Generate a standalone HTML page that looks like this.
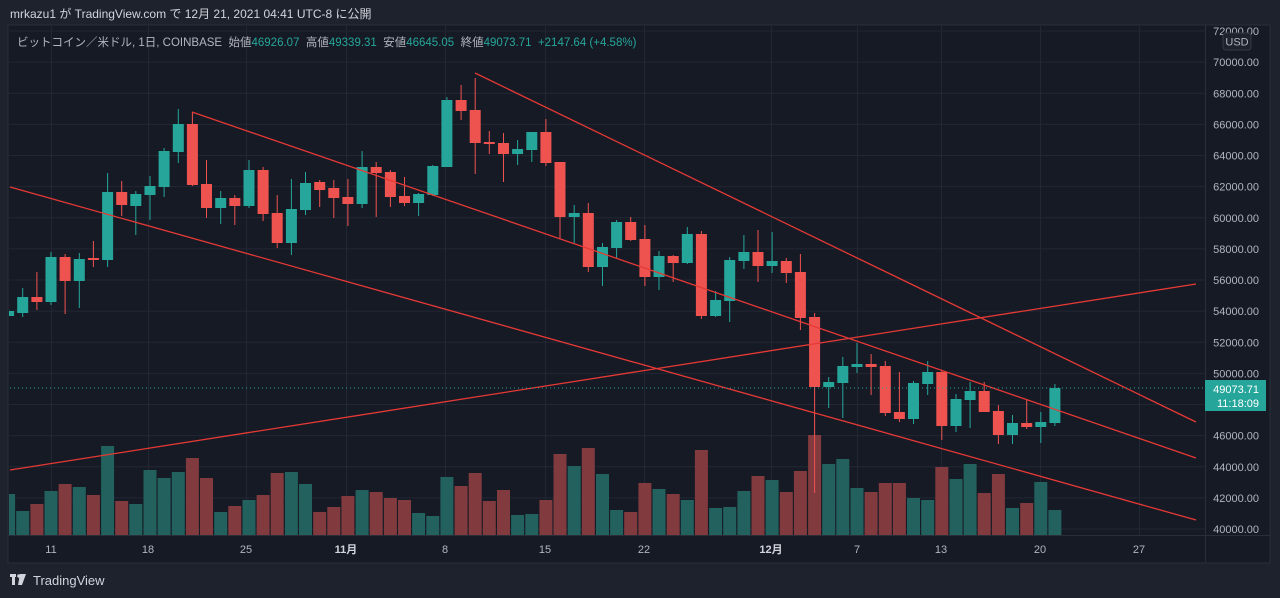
<!DOCTYPE html>
<html><head><meta charset="utf-8">
<style>
html,body{margin:0;padding:0;background:#1e222d;width:1280px;height:598px;overflow:hidden}
svg{display:block}
text{font-family:"Liberation Sans","Noto Sans CJK JP",sans-serif}
</style></head>
<body>
<svg id="s" width="1280" height="598" xmlns="http://www.w3.org/2000/svg">
<rect x="0" y="0" width="1280" height="598" fill="#1e222d"/>
<text x="10" y="18" font-size="12" fill="#d1d4dc">mrkazu1 が TradingView.com で 12月 21, 2021 04:41 UTC-8 に公開</text>
<rect x="8" y="25" width="1262" height="538" fill="#161a25" stroke="#2a2e39" stroke-width="1"/>
<g id="grid" stroke="#232734" stroke-width="1"></g>
<defs><clipPath id="cp"><rect x="9" y="26" width="1196" height="509"/></clipPath></defs>
<g id="vol" clip-path="url(#cp)"></g>
<g id="cdl" clip-path="url(#cp)"></g>
<g clip-path="url(#cp)" stroke="#e53935" stroke-width="1.3" fill="none">
<line x1="475" y1="73" x2="1196" y2="422"/>
<line x1="192" y1="112" x2="1196" y2="458"/>
<line x1="10" y1="187" x2="1196" y2="520"/>
<line x1="10" y1="470" x2="1196" y2="284"/>
<line x1="10" y1="388" x2="1205" y2="388" stroke="#26a69a" stroke-width="1" stroke-dasharray="1 3"/>
</g>
<line x1="1205.5" y1="25" x2="1205.5" y2="563" stroke="#2a2e39"/>
<line x1="8" y1="535.5" x2="1270" y2="535.5" stroke="#2a2e39"/>
<g id="plab" font-size="11" fill="#b2b5be" text-anchor="end"></g>
<rect x="1223" y="33" width="28" height="17" rx="3" fill="#1e222d" stroke="#363a45"/>
<text x="1237" y="45.5" font-size="11" fill="#b2b5be" text-anchor="middle">USD</text>
<rect x="1205" y="380" width="61" height="31" fill="#26a69a"/>
<text x="1259" y="393" font-size="11" fill="#ffffff" text-anchor="end">49073.71</text>
<text x="1259" y="407" font-size="11" fill="#ffffff" text-anchor="end">11:18:09</text>
<g font-size="11" fill="#b2b5be" text-anchor="middle">
<text x="51" y="553">11</text><text x="148" y="553">18</text><text x="246" y="553">25</text>
<text x="346" y="553" font-weight="bold" fill="#d1d4dc">11月</text><text x="445" y="553">8</text><text x="545" y="553">15</text>
<text x="644" y="553">22</text><text x="771" y="553" font-weight="bold" fill="#d1d4dc">12月</text><text x="857" y="553">7</text>
<text x="941" y="553">13</text><text x="1040" y="553">20</text><text x="1139" y="553">27</text>
</g>
<text x="17" y="46" font-size="11.5" fill="#b2b5be">ビットコイン／米ドル, 1日, COINBASE&#160;&#160;始値<tspan fill="#26a69a">46926.07</tspan>&#160;&#160;高値<tspan fill="#26a69a">49339.31</tspan>&#160;&#160;安値<tspan fill="#26a69a">46645.05</tspan>&#160;&#160;終値<tspan fill="#26a69a">49073.71</tspan>&#160;&#160;<tspan fill="#26a69a">+2147.64 (+4.58%)</tspan></text>
<g fill="#d1d4dc">
<rect x="10" y="574" width="6" height="3"/><rect x="12" y="574" width="3" height="11"/>
<circle cx="19" cy="576" r="1.8"/><polygon points="20,574 26,574 22,585 18,585"/>
</g>
<text x="33" y="585" font-size="13" fill="#d1d4dc">TradingView</text>
</svg>
<script>
var NS="http://www.w3.org/2000/svg";
function el(p,t,a){var e=document.createElementNS(NS,t);for(var k in a)e.setAttribute(k,a[k]);p.appendChild(e);return e;}
var grid=document.getElementById('grid'),plab=document.getElementById('plab');
for(var p=72000;p>=40000;p-=2000){var y=31+(72000-p)*0.015563;
 el(grid,'line',{x1:9,y1:y.toFixed(1),x2:1205,y2:y.toFixed(1)});
 var t=el(plab,'text',{x:1259,y:(y+4).toFixed(1)});t.textContent=p.toFixed(0)+'.00';}
[51,148,246,346,445,545,644,771,857,941,1040,1139].forEach(function(x){el(grid,'line',{x1:x+.5,y1:26,x2:x+.5,y2:535});});
var D=[
['g',311,316,309,317,494],['g',297,313,288,317,511],['r',297,302,272,310,504],['g',257,302,252,305,491],
['r',257,281,254,314,484],['g',259,281,253,308,487],['r',258,260,241,267,495],['g',192,260,173,267,446],
['r',192,205,181,216,501],['g',194,206,191,235,504],['g',186,195,176,220,470],['g',151,187,148,197,478],
['g',124,152,109,163,472],['r',124,185,112,186,458],['r',184,208,160,218,478],['g',198,208,191,224,512],
['r',198,206,195,225,506],['g',170,206,160,208,500],['r',170,214,167,221,495],['r',213,243,195,248,473],
['g',209,243,179,255,472],['g',183,210,172,215,484],['r',182,190,180,207,512],['r',188,198,180,218,507],
['r',197,204,179,226,496],['g',167,204,151,208,490],['r',167,173,162,217,492],['r',172,197,170,207,498],
['r',196,203,177,206,500],['g',194,203,193,216,513],['g',166,195,165,196,516],['g',100,167,97,167,477],
['r',100,111,85,120,486],['r',110,143,78,174,473],['r',142,144,131,154,501],['r',143,154,133,182,490],
['g',149,154,140,165,515],['g',132,150,132,162,514],['r',132,163,119,166,500],['r',162,217,162,239,454],
['g',213,217,205,243,466],['r',213,267,203,272,448],['g',247,267,243,286,474],['g',222,248,220,258,510],
['r',222,240,217,241,512],['r',239,277,225,286,483],['g',256,277,251,290,489],['r',256,263,255,282,494],
['g',234,263,227,264,500],['r',234,316,231,319,450],['g',300,316,291,317,508],['g',260,301,257,322,507],
['g',252,261,235,269,491],['r',252,266,230,282,476],['g',261,266,232,273,480],['r',261,273,258,283,492],
['r',272,318,254,330,471],['r',317,387,313,493,435],['g',382,387,377,408,464],['g',366,383,357,418,459],
['g',364,367,343,373,488],['r',364,367,354,395,492],['r',366,413,361,416,483],['r',412,419,372,422,483],
['g',383,419,381,424,498],['g',372,384,361,395,500],['r',372,426,370,440,467],['g',399,426,394,432,479],
['g',391,400,382,428,464],['r',391,412,382,412,493],['r',411,435,405,444,474],['g',423,435,415,444,508],
['r',423,427,400,429,503],['g',422,427,412,443,482],['g',388,423,384,426,510]];
var vol=document.getElementById('vol'),cdl=document.getElementById('cdl');
D.forEach(function(d,i){var x=51+(i-3)*14.14;var c=d[0]=='g'?'#26a69a':'#ef5350';var vc=d[0]=='g'?'#22615d':'#813a3d';
 el(vol,'rect',{x:(x-6.5).toFixed(1),y:d[5],width:13,height:535-d[5],fill:vc});
 el(cdl,'rect',{x:(x-0.5).toFixed(1),y:d[3],width:1,height:d[4]-d[3],fill:c});
 el(cdl,'rect',{x:(x-5.5).toFixed(1),y:d[1],width:11,height:Math.max(1,d[2]-d[1]),fill:c});
});
</script>
</body></html>
